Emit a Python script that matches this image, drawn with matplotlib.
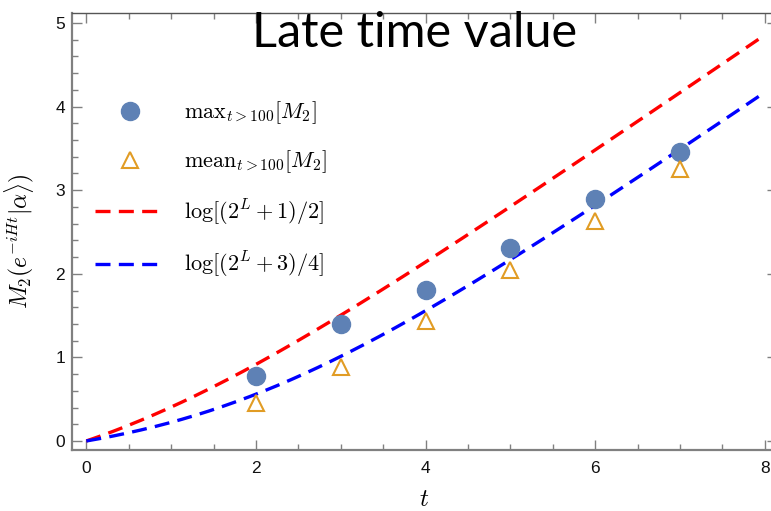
import numpy as np
import matplotlib
matplotlib.use("Agg")
import matplotlib.pyplot as plt
from matplotlib.ticker import MultipleLocator

plt.rcParams['mathtext.fontset'] = 'cm'
plt.rcParams['font.family'] = ['Liberation Sans', 'DejaVu Sans']

# data
L_points = [2, 3, 4, 5, 6, 7]
max_vals = [0.78, 1.40, 1.81, 2.31, 2.90, 3.46]
mean_vals = [0.45, 0.89, 1.43, 2.05, 2.63, 3.25]

# the two dashed curves are the functions named in the legend, plotted on [0, 8]
L_curve = np.linspace(0, 8, 300)
upper_curve = np.log((2 ** L_curve + 1) / 2)
lower_curve = np.log((2 ** L_curve + 3) / 4)

fig = plt.figure(figsize=(7.71, 5.11), dpi=100)
# the reference is cropped just before the right frame edge
ax = fig.add_axes([72 / 771, 1 - 450 / 511, (777 - 72) / 771, (450 - 13) / 511])

ax.plot(L_points, max_vals, 'o', color='#5E81B5', markersize=13,
        linestyle='none', label=r'$\mathrm{max}_{t>100}[M_2]$', zorder=3)
ax.plot(L_points, mean_vals, '^', markerfacecolor='none', markeredgecolor='#E19C24',
        markeredgewidth=1.5, markersize=11, linestyle='none',
        label=r'$\mathrm{mean}_{t>100}[M_2]$', zorder=3)
ax.plot(L_curve, upper_curve, color='#FF0000', linestyle=(0, (4.5, 2.5)), linewidth=2.4,
        label=r'$\log[(2^L+1)/2]$')
ax.plot(L_curve, lower_curve, color='#0000FF', linestyle=(0, (4.5, 2.5)), linewidth=2.4,
        label=r'$\log[(2^L+3)/4]$')

ax.set_xlim(-0.169, 8.145)
ax.set_ylim(-0.108, 5.12)

ax.xaxis.set_major_locator(MultipleLocator(2))
ax.xaxis.set_minor_locator(MultipleLocator(0.5))
ax.yaxis.set_major_locator(MultipleLocator(1))
ax.yaxis.set_minor_locator(MultipleLocator(0.2))
ax.tick_params(which='both', direction='in', top=True, right=True, color='#808080',
               labelsize=12.5, labelcolor='#111111')
ax.tick_params(which='major', length=7, width=1)
ax.tick_params(which='minor', length=4, width=1)
ax.tick_params(axis='x', pad=8)
ax.tick_params(axis='y', pad=5)
for side in ['left', 'bottom']:
    ax.spines[side].set_color('#808080')
    ax.spines[side].set_linewidth(1.6)
for side in ['top', 'right']:
    ax.spines[side].set_color('#555555')
    ax.spines[side].set_linewidth(1.0)

ax.set_xlabel(r'$t$', fontsize=18, labelpad=8)
ax.set_ylabel(r'$M_2(e^{-iHt}|\alpha\rangle)$', fontsize=17)
ax.yaxis.set_label_coords(-0.051, 0.478)

ax.legend(loc='upper left', bbox_to_anchor=(0.02, 0.822), borderaxespad=0,
          frameon=False, fontsize=16, handlelength=3.15, handletextpad=0.85,
          labelspacing=1.0)

fig.text(0.538, 1 - 47 / 511, 'Late time value', fontsize=35, family='Lato',
         ha='center', va='baseline', color='black')

fig.savefig('out.png', dpi=100)
